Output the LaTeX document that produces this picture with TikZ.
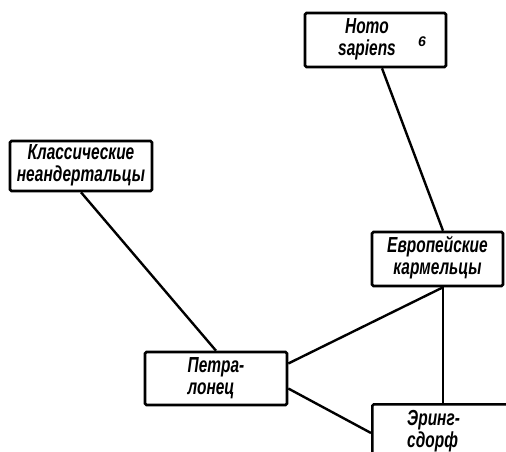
\documentclass[tikz,border=0pt]{standalone}
\usepackage{fontspec}
\usepackage{graphicx}
\setmainfont{Liberation Sans}
\usetikzlibrary{calc}
\newcommand\vtxt[1]{\raisebox{0pt}[13pt][4pt]{\scalebox{0.91}[1.28]{#1}}}
\begin{document}
\begin{tikzpicture}[x=1pt,y=-1pt,
  lettering/.style={font=\fontsize{17}{22}\selectfont\bfseries\itshape},
  box/.style={draw,line width=2.6pt,rounded corners=1.5pt,align=center,inner sep=0pt,lettering},
  txt/.style={inner sep=0pt,align=left,lettering},
  link/.style={line width=2.4pt}]
\useasboundingbox (0,0) rectangle (506,452);
\clip (0,0) rectangle (506,452);
\node[box,minimum width=141pt,minimum height=54pt] (homo) at (375.5,40) {\vtxt{Homo}\hspace*{17pt}\\\vtxt{sapiens}\hspace*{17pt}};
\node[inner sep=0pt,font=\fontsize{14}{14}\selectfont\bfseries\itshape] (mark) at (422,42) {6};
\node[box,minimum width=142pt,minimum height=50pt] (klass) at (81,166) {\vtxt{Классические}\\\vtxt{неандертальцы}};
\node[box,minimum width=131pt,minimum height=54pt] (evrop) at (437.5,259) {\vtxt{Европейские}\\\vtxt{кармельцы}};
\node[box,minimum width=142pt,minimum height=53pt,align=left] (petral) at (216,378.5) {\vtxt{Петра-}\\\vtxt{лонец}};
\node[box,anchor=north west,minimum width=200pt,minimum height=100pt] (ering) at (371,403) {};
\node[txt,anchor=north west] (eringtxt) at (407,412) {\vtxt{Эринг-}\\\vtxt{сдорф}};
\coordinate (j) at ($(evrop.south)+(5.5,0)$);
\draw[link] ($(homo.south)+(6.5,0)$) -- ($(evrop.north)+(5.5,0)$);
\draw[link] (j) -- (j |- ering.north);
\draw[link] (klass.south) -- (petral.north);
\draw[link] ($(petral.east)+(0,-15)$) -- (j);
\draw[link] ($(petral.east)+(0,10)$) -- ($(ering.north west)+(0,30)$);
\end{tikzpicture}
\end{document}
